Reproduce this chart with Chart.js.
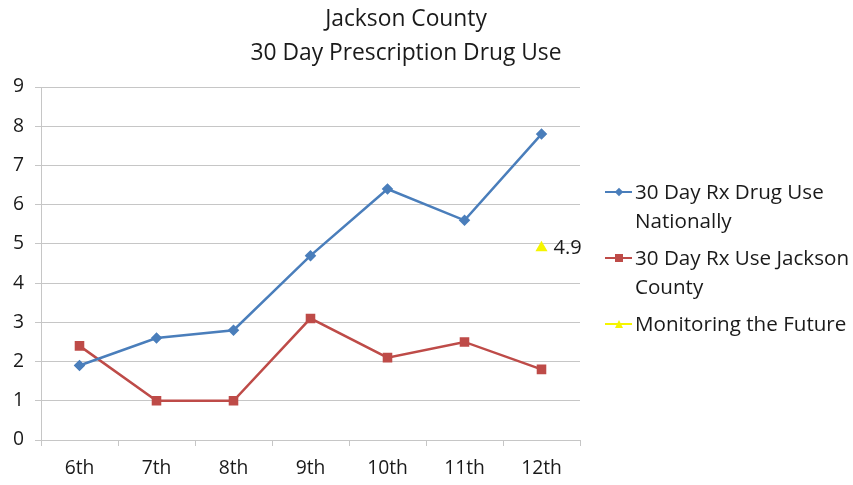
<!DOCTYPE html>
<html>
<head>
<meta charset="utf-8">
<script src="https://cdn.jsdelivr.net/npm/chart.js@4/dist/chart.umd.min.js"></script>
<style>
  html, body { margin: 0; padding: 0; background: #fff; }
  #wrap { position: relative; width: 853px; height: 485px; font-family: "Open Sans", Lato, sans-serif; color: #1a1a1a; }
  #chart { position: absolute; left: 0; top: 0; }
  #title { position: absolute; left: 156px; width: 500px; top: 1px; text-align: center; font-size: 22.8px; line-height: 34px; }
  #legend { position: absolute; left: 605px; top: 177px; font-size: 20.6px; line-height: 29px; }
  .item { display: flex; align-items: flex-start; margin-bottom: 8px; }
  .key { position: relative; width: 27px; height: 29px; flex: none; margin-right: 3px; }
  .key .ln { position: absolute; left: 0; right: 0; top: 14px; height: 2px; }
  .key .mk { position: absolute; left: 10px; top: 11px; width: 8px; height: 8px; }
</style>
</head>
<body>
<div id="wrap">
  <canvas id="chart" width="853" height="485"></canvas>
  <div id="title">Jackson County<br>30 Day Prescription Drug Use</div>
  <div id="legend"></div>
</div>
<script>
// Grade levels along the x axis
const grades = ["6th", "7th", "8th", "9th", "10th", "11th", "12th"];
// Percent reporting prescription drug use in the last 30 days
const nationalRx = [1.9, 2.6, 2.8, 4.7, 6.4, 5.6, 7.8];
const jacksonRx = [2.4, 1.0, 1.0, 3.1, 2.1, 2.5, 1.8];
const monitoringFuture = [null, null, null, null, null, null, 4.9];
const yTicks = [0, 1, 2, 3, 4, 5, 6, 7, 8, 9];

const seriesNames = [
  ["30 Day Rx Drug Use", "Nationally"],
  ["30 Day Rx Use Jackson", "County"],
  ["Monitoring the Future"]
];
const colors = ["#4a7ebb", "#be4b48", "#f5f500"];
const markerKinds = ["diamond", "square", "triangle"];

const fontFamily = "'Open Sans', Lato, sans-serif";

// Writes the value next to the single Monitoring the Future point
const pointLabel = {
  id: "pointLabel",
  afterDatasetsDraw(chart) {
    const meta = chart.getDatasetMeta(2);
    const ctx = chart.ctx;
    ctx.save();
    ctx.font = "20px " + fontFamily;
    ctx.fillStyle = "#1a1a1a";
    ctx.textBaseline = "middle";
    meta.data.forEach((pt, i) => {
      const v = monitoringFuture[i];
      if (v === null) return;
      ctx.fillText(String(v), pt.x + 12, pt.y);
    });
    ctx.restore();
  }
};

const gridColor = "#c6c6c6";
new Chart(document.getElementById("chart"), {
  type: "line",
  data: {
    labels: grades,
    datasets: [
      { label: seriesNames[0].join(" "), data: nationalRx, borderColor: colors[0], backgroundColor: colors[0],
        borderWidth: 2.5, pointStyle: "rectRot", pointRadius: 4, tension: 0 },
      { label: seriesNames[1].join(" "), data: jacksonRx, borderColor: colors[1], backgroundColor: colors[1],
        borderWidth: 2.5, pointStyle: "rect", pointRadius: 5, tension: 0 },
      { label: seriesNames[2].join(" "), data: monitoringFuture, borderColor: colors[2], backgroundColor: colors[2],
        borderWidth: 2.5, pointStyle: "triangle", pointRadius: 4.5, tension: 0 }
    ]
  },
  options: {
    responsive: false,
    animation: false,
    layout: { padding: { top: 87, right: 273, left: 0, bottom: 0 } },
    plugins: { legend: { display: false }, title: { display: false }, tooltip: { enabled: false } },
    scales: {
      x: {
        offset: true,
        grid: { offset: true, drawOnChartArea: false, drawTicks: true, tickLength: 6, color: gridColor },
        border: { color: gridColor, width: 1 },
        ticks: { color: "#1a1a1a", padding: 11, font: { size: 19.3, family: fontFamily } },
        afterFit(scale) { scale.height = 45; }
      },
      y: {
        min: 0, max: 9,
        afterBuildTicks(scale) { scale.ticks = yTicks.map(v => ({ value: v })); },
        grid: { color: gridColor, tickLength: 6, lineWidth: 1 },
        border: { color: gridColor, width: 1 },
        ticks: { color: "#1a1a1a", padding: 11, font: { size: 19.3, family: fontFamily } },
        afterFit(scale) { scale.width = 41; }
      }
    }
  },
  plugins: [pointLabel]
});

// Legend to the right of the plot, with wrapped series names
const legend = document.getElementById("legend");
seriesNames.forEach((lines, i) => {
  const item = document.createElement("div");
  item.className = "item";
  const key = document.createElement("div");
  key.className = "key";
  const ln = document.createElement("div");
  ln.className = "ln";
  ln.style.background = colors[i];
  const mk = document.createElement("div");
  mk.className = "mk";
  if (markerKinds[i] === "diamond") {
    mk.style.background = colors[i];
    mk.style.transform = "rotate(45deg) scale(0.75)";
  } else if (markerKinds[i] === "square") {
    mk.style.background = colors[i];
  } else {
    mk.style.width = "0"; mk.style.height = "0";
    mk.style.borderLeft = "4px solid transparent";
    mk.style.borderRight = "4px solid transparent";
    mk.style.borderBottom = "8px solid " + colors[i];
  }
  key.appendChild(ln);
  key.appendChild(mk);
  const txt = document.createElement("div");
  txt.innerHTML = lines.join("<br>");
  item.appendChild(key);
  item.appendChild(txt);
  legend.appendChild(item);
});
</script>
</body>
</html>
